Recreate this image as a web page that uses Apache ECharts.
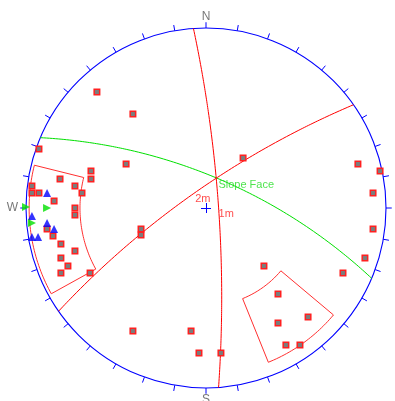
<!DOCTYPE html>
<html>
<head>
<meta charset="utf-8">
<script src="https://cdn.jsdelivr.net/npm/echarts@6/dist/echarts.min.js"></script>
<style>
  html, body { margin: 0; padding: 0; background: #ffffff; }
  #chart { width: 395px; height: 401px; }
</style>
</head>
<body>
<div id="chart"></div>
<script>
// Stereonet, equal-angle lower hemisphere. Pole positions are given in
// projected units (east, north) where the primitive circle has radius 1.
const poleEast = [
  -0.606, -0.406, 0.206, -0.444, -0.928, 0.844, 0.967, 0.928, 0.928, 0.883,
  0.761, 0.322, 0.400, 0.567, 0.400, 0.444, 0.522, -0.361, -0.361, -0.406,
  -0.083, -0.039, 0.083, -0.639, -0.639, -0.811, -0.728, -0.967, -0.967, -0.928,
  -0.689, -0.844, -0.728, -0.728, -0.883, -0.850, -0.806, -0.728, -0.806, -0.767,
  -0.806, -0.644
];
const poleNorth = [
  0.644, 0.522, 0.278, 0.244, 0.328, 0.244, 0.206, 0.083, -0.117, -0.278,
  -0.361, -0.322, -0.478, -0.606, -0.639, -0.761, -0.761, -0.117, -0.150, -0.683,
  -0.683, -0.806, -0.806, 0.206, 0.161, 0.161, 0.122, 0.122, 0.083, 0.083,
  0.083, 0.039, 0.000, -0.039, -0.117, -0.156, -0.200, -0.239, -0.278, -0.322,
  -0.361, -0.361
];
// Secondary symbol groups
const blueEast  = [-0.883, -0.967, -0.883, -0.844, -0.967, -0.933];
const blueNorth = [ 0.083, -0.044, -0.083, -0.117, -0.161, -0.161];
const greenEast  = [-0.883, -0.967, -1.000];
const greenNorth = [ 0.000, -0.083,  0.005];

// Planes drawn as great circles (dip, dip direction in degrees)
const planeNames   = ['Slope Face', '1m', '2m'];
const planeDip     = [70, 82, 78];
const planeDipDir  = [23, 86, 325];

// Set windows: pole trend and plunge limits (degrees)
const windowTrendFrom  = [241, 130];
const windowTrendTo    = [284, 158];
const windowPlungeFrom = [1, 4.5];
const windowPlungeTo   = [20, 33];

// Compass
const compassLabels   = ['N', 'E', 'S', 'W'];
const compassAzimuths = [0, 90, 180, 270];
const tickAzimuths = [0, 10, 20, 30, 40, 50, 60, 70, 80, 90, 100, 110, 120, 130, 140, 150, 160, 170,
  180, 190, 200, 210, 220, 230, 240, 250, 260, 270, 280, 290, 300, 310, 320, 330, 340, 350];

const D2R = Math.PI / 180;
const FONT = "'Liberation Sans', Arial, sans-serif";
const planeColors = ['#00e000', '#ff0000', '#ff0000'];
const planeLabelColors = ['#22dd22', '#ff2020', '#ff2020'];

// Equal-angle projection of a line given by trend / plunge
function projectLine(trend, plunge) {
  const r = Math.tan((90 - plunge) / 2 * D2R);
  return [r * Math.sin(trend * D2R), r * Math.cos(trend * D2R)];
}

// Great circle of a plane, sampled along the plane from strike to strike
function greatCircle(dip, dipDir) {
  const a = dipDir * D2R, d = dip * D2R;
  const s = [-Math.cos(a), Math.sin(a), 0];
  const v = [Math.cos(d) * Math.sin(a), Math.cos(d) * Math.cos(a), Math.sin(d)];
  const pts = [];
  for (let t = 0; t <= 180; t += 1) {
    const c = Math.cos(t * D2R), sn = Math.sin(t * D2R);
    const e = c * s[0] + sn * v[0];
    const n = c * s[1] + sn * v[1];
    const z = c * s[2] + sn * v[2];
    pts.push([e / (1 + z), n / (1 + z)]);
  }
  return pts;
}

// Outline of a trend / plunge window
function windowOutline(t1, t2, p1, p2) {
  const pts = [];
  pts.push(projectLine(t1, p1));
  for (let t = t1; t <= t2; t += 1) pts.push(projectLine(t, p2));
  pts.push(projectLine(t2, p2));
  for (let t = t2; t >= t1; t -= 1) pts.push(projectLine(t, p1));
  pts.push(projectLine(t1, p1));
  return pts;
}

const chart = echarts.init(document.getElementById('chart'), null, { renderer: 'canvas' });
const series = [];

// Primitive circle, azimuth ticks and centre cross
series.push({
  type: 'custom',
  coordinateSystem: 'cartesian2d',
  clip: false,
  silent: true,
  z: 1,
  data: [[0, 0]],
  renderItem: function (params, api) {
    const c = api.coord([0, 0]);
    const e = api.coord([1, 0]);
    const R = e[0] - c[0];
    const children = [{
      type: 'circle',
      shape: { cx: c[0], cy: c[1], r: R },
      style: { fill: 'none', stroke: '#0000ff', lineWidth: 1.1 }
    }];
    tickAzimuths.forEach(function (az) {
      const sx = Math.sin(az * D2R), sy = Math.cos(az * D2R);
      const p1 = api.coord([sx, sy]);
      const p2 = api.coord([sx * 1.032, sy * 1.032]);
      children.push({
        type: 'line',
        shape: { x1: p1[0], y1: p1[1], x2: p2[0], y2: p2[1] },
        style: { stroke: '#0000ff', lineWidth: 1 }
      });
    });
    children.push({
      type: 'line', shape: { x1: c[0] - 5, y1: c[1] + 0.5, x2: c[0] + 5, y2: c[1] + 0.5 },
      style: { stroke: '#0000ff', lineWidth: 1 }
    });
    children.push({
      type: 'line', shape: { x1: c[0] + 0.5, y1: c[1] - 5, x2: c[0] + 0.5, y2: c[1] + 5 },
      style: { stroke: '#0000ff', lineWidth: 1 }
    });
    return { type: 'group', children: children };
  }
});

// Set windows
for (let i = 0; i < windowTrendFrom.length; i++) {
  series.push({
    type: 'line',
    z: 2,
    clip: false,
    silent: true,
    showSymbol: false,
    symbol: 'none',
    lineStyle: { color: '#ff3030', width: 1 },
    data: windowOutline(windowTrendFrom[i], windowTrendTo[i], windowPlungeFrom[i], windowPlungeTo[i])
  });
}

// Great circles
for (let i = 0; i < planeDip.length; i++) {
  series.push({
    type: 'line',
    z: 3,
    clip: false,
    silent: true,
    showSymbol: false,
    symbol: 'none',
    lineStyle: { color: planeColors[i], width: 1 },
    data: greatCircle(planeDip[i], planeDipDir[i])
  });
}

// Plane labels at the dip point of each great circle
series.push({
  type: 'scatter',
  z: 6,
  clip: false,
  silent: true,
  symbolSize: 0,
  data: planeNames.map(function (name, i) {
    return {
      value: projectLine(planeDipDir[i], planeDip[i]),
      label: {
        show: true, formatter: name, position: [0, 1],
        color: planeLabelColors[i], fontSize: 11, fontFamily: FONT
      }
    };
  })
});

// Poles
series.push({
  type: 'scatter',
  z: 4,
  clip: false,
  silent: true,
  symbol: 'rect',
  symbolSize: 5.5,
  itemStyle: { color: '#7c7c7c', borderColor: '#ff2020', borderWidth: 1.5, opacity: 1 },
  data: poleEast.map(function (x, i) { return [x, poleNorth[i]]; })
});

series.push({
  type: 'scatter',
  z: 5,
  clip: false,
  silent: true,
  symbol: 'triangle',
  symbolSize: 8,
  itemStyle: { color: '#0000ff' },
  data: blueEast.map(function (x, i) { return [x, blueNorth[i]]; })
});

series.push({
  type: 'scatter',
  z: 5,
  clip: false,
  silent: true,
  symbol: 'triangle',
  symbolSize: 8,
  symbolRotate: -90,
  itemStyle: { color: '#00e000' },
  data: greenEast.map(function (x, i) { return [x, greenNorth[i]]; })
});

// Compass letters
series.push({
  type: 'scatter',
  z: 6,
  clip: false,
  silent: true,
  symbolSize: 0,
  data: compassLabels.map(function (t, i) {
    const az = compassAzimuths[i] * D2R;
    const r = (i % 2 === 0) ? 1.065 : 1.075;
    return {
      value: [r * Math.sin(az), r * Math.cos(az)],
      label: {
        show: true, formatter: t, position: 'inside',
        color: '#555555', fontSize: 12, fontFamily: FONT
      }
    };
  })
});

chart.setOption({
  animation: false,
  backgroundColor: '#ffffff',
  grid: { left: 26, top: 28, width: 360, height: 360 },
  xAxis: { type: 'value', min: -1, max: 1, show: false },
  yAxis: { type: 'value', min: -1, max: 1, show: false },
  series: series
});
</script>
</body>
</html>
